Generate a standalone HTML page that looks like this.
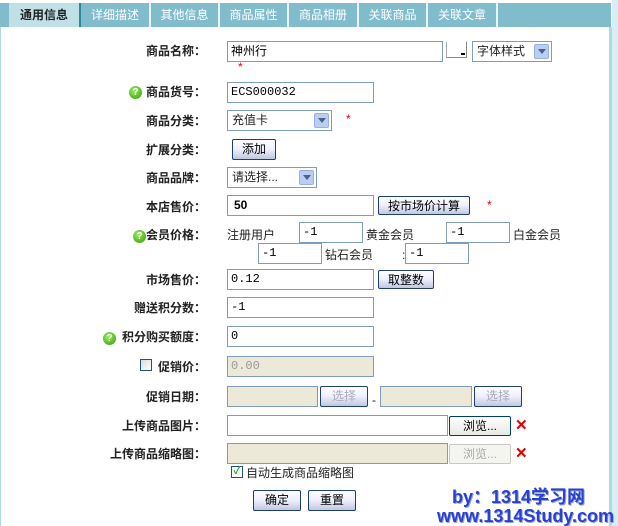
<!DOCTYPE html>
<html><head><meta charset="utf-8"><style>
*{margin:0;padding:0;box-sizing:border-box}
body{width:618px;height:526px;overflow:hidden;background:#fff;position:relative;font-family:"Liberation Sans","WenQuanYi Zen Hei","Noto Sans CJK SC",sans-serif;font-size:12px;color:#222}
.a{position:absolute}
.bar{left:0;top:3;height:24px}
.tab{position:absolute;top:3px;height:24px;line-height:24px;text-align:center;color:#fff;font-size:12px;border-right:2px solid #e8f4f8}
.lb{position:absolute;width:206px;left:0;text-align:right;font-weight:bold;color:#222;font-size:12px;height:14px;line-height:14px}
.in{position:absolute;border:1px solid #7f9db9;background:#fff;height:21px;line-height:19px;padding-left:3px;font-family:"Liberation Mono","WenQuanYi Zen Hei",monospace;font-size:12px;color:#000}
.dis{background:#ece9d8;color:#999}
.sel{position:absolute;border:1px solid #7f9db9;background:#fff;height:21px;line-height:19px;padding-left:4px;font-size:12px}
.sel i{position:absolute;right:2px;top:2px;width:15px;height:15px;background:#b9cdf5;border:1px solid #98b0e0;border-radius:2px}
.sel i:after{content:"";position:absolute;left:3px;top:4px;border:4px solid transparent;border-top:5px solid #4d6185}
.btn{position:absolute;border:1px solid #1f3f6f;border-radius:2px;background:linear-gradient(#fff,#eef 50%,#c0c8dc);height:20px;line-height:18px;text-align:center;font-size:12px;color:#000}
.bdis{color:#aaa;border-color:#c8c8c0;background:#f4f4f0}
.txt{position:absolute;font-size:12px;height:14px;line-height:14px}
.star{position:absolute;color:#e00;font-size:12px}
.q{position:absolute;width:13px;height:13px;border-radius:50%;background:radial-gradient(circle at 40% 35%,#9e6,#390);color:#fff;font-size:10px;font-weight:bold;text-align:center;line-height:13px}
.x{position:absolute;color:#d00;font-size:15px;font-weight:bold}
</style></head><body>
<div class="a" style="left:0;top:0;width:618px;height:3px;background:#fff"></div>
<div class="a" style="left:0;top:3px;width:611px;height:24px;background:#80bccc"></div>
<div class="a" style="left:609px;top:27px;width:3px;height:499px;background:#b0d8e0"></div>
<div class="a" style="left:612px;top:0;width:6px;height:526px;background:#d8eef4"></div>
<div class="a" style="left:0;top:27px;width:1px;height:499px;background:#b0d8e0"></div>
<div class="tab" style="left:9px;width:72px;background:#c0e0e8;color:#222;font-weight:bold;border-right:2px solid #2a8a9a">通用信息</div>
<div class="tab" style="left:81px;width:70px">详细描述</div>
<div class="tab" style="left:151px;width:69px">其他信息</div>
<div class="tab" style="left:220px;width:69px">商品属性</div>
<div class="tab" style="left:289px;width:70px">商品相册</div>
<div class="tab" style="left:359px;width:69px">关联商品</div>
<div class="tab" style="left:428px;width:70px">关联文章</div>

<div class="lb" style="top:44px">商品名称：</div>
<div class="in" style="left:191px;left:191px;display:none"></div>
<div class="in" style="left:227px;top:41px;width:216px;font-family:'WenQuanYi Zen Hei',sans-serif">神州行</div>
<div class="a" style="left:446px;top:41px;width:21px;height:17px;border:1px solid #888;border-top-color:#fff;border-left-color:#aaa;background:#fff"><div class="a" style="left:14px;top:11px;width:4px;height:2px;background:#000"></div></div>
<div class="sel" style="left:472px;top:41px;width:80px">字体样式<i></i></div>
<div class="star" style="left:238px;top:60px">*</div>

<div class="q" style="left:129px;top:86px">?</div>
<div class="lb" style="top:85px">商品货号：</div>
<div class="in" style="left:227px;top:82px;width:147px">ECS000032</div>

<div class="lb" style="top:114px">商品分类：</div>
<div class="sel" style="left:227px;top:110px;width:105px">充值卡<i></i></div>
<div class="star" style="left:346px;top:112px">*</div>

<div class="lb" style="top:143px">扩展分类：</div>
<div class="btn" style="left:232px;top:139px;width:44px;height:21px">添加</div>

<div class="lb" style="top:171px">商品品牌：</div>
<div class="sel" style="left:227px;top:167px;width:90px">请选择...<i></i></div>

<div class="lb" style="top:200px">本店售价：</div>
<div class="in" style="left:227px;top:195px;width:147px;font-weight:bold;font-family:'Liberation Sans',sans-serif;padding-left:6px">50</div>
<div class="btn" style="left:378px;top:196px;width:92px;height:19px">按市场价计算</div>
<div class="star" style="left:487px;top:198px">*</div>

<div class="q" style="left:133px;top:230px">?</div>
<div class="lb" style="top:228px;left:146px;width:60px">会员价格：</div>
<div class="txt" style="left:227px;top:228px">注册用户</div>
<div class="in" style="left:299px;top:222px;width:64px">-1</div>
<div class="txt" style="left:366px;top:228px">黄金会员</div>
<div class="in" style="left:446px;top:222px;width:64px">-1</div>
<div class="txt" style="left:513px;top:228px">白金会员</div>
<div class="in" style="left:258px;top:243px;width:64px">-1</div>
<div class="txt" style="left:325px;top:248px">钻石会员</div>
<div class="txt" style="left:402px;top:248px">:</div>
<div class="in" style="left:405px;top:243px;width:64px">-1</div>

<div class="lb" style="top:273px">市场售价：</div>
<div class="in" style="left:227px;top:269px;width:147px">0.12</div>
<div class="btn" style="left:378px;top:270px;width:56px;height:19px">取整数</div>

<div class="lb" style="top:301px">赠送积分数：</div>
<div class="in" style="left:227px;top:297px;width:147px">-1</div>

<div class="q" style="left:103px;top:332px">?</div>
<div class="lb" style="top:330px">积分购买额度：</div>
<div class="in" style="left:227px;top:326px;width:147px">0</div>

<div class="a" style="left:140px;top:359px;width:12px;height:12px;border:1px solid #1c5180;background:linear-gradient(135deg,#dcdcd8,#fff)"></div>
<div class="lb" style="top:360px">促销价：</div>
<div class="in dis" style="left:227px;top:356px;width:147px">0.00</div>

<div class="lb" style="top:390px">促销日期：</div>
<div class="in dis" style="left:227px;top:386px;width:91px"></div>
<div class="btn" style="left:320px;top:386px;width:48px;height:21px;color:#aab">选择</div>
<div class="txt" style="left:372px;top:393px">-</div>
<div class="in dis" style="left:380px;top:386px;width:92px"></div>
<div class="btn" style="left:474px;top:386px;width:48px;height:21px;color:#aab">选择</div>

<div class="lb" style="top:419px">上传商品图片：</div>
<div class="in" style="left:227px;top:415px;width:221px"></div>
<div class="btn" style="left:449px;top:416px;width:62px;background:linear-gradient(#fff,#e8e8e4);border-color:#003c74">浏览...</div>
<div class="x" style="left:515px;top:416px">✕</div>

<div class="lb" style="top:447px">上传商品缩略图：</div>
<div class="in dis" style="left:227px;top:443px;width:221px"></div>
<div class="btn bdis" style="left:449px;top:444px;width:62px">浏览...</div>
<div class="x" style="left:515px;top:444px">✕</div>

<div class="a" style="left:231px;top:466px;width:12px;height:12px;border:1px solid #1c5180;background:#fff;color:#2a2;font-size:10px;line-height:10px;text-align:center;font-weight:bold">✓</div>
<div class="txt" style="left:246px;top:466px">自动生成商品缩略图</div>

<div class="btn" style="left:253px;top:490px;width:48px;height:21px">确定</div>
<div class="btn" style="left:308px;top:490px;width:48px;height:21px">重置</div>

<div class="a" style="left:452px;top:487px;font-size:18px;font-weight:bold;color:#2a3fd8;text-shadow:1px 1px 0 #9ab;white-space:nowrap;line-height:20px">by：1314学习网</div>
<div class="a" style="left:437px;top:506px;font-size:18px;font-weight:bold;color:#2a3fd8;text-shadow:1px 1px 0 #9ab;white-space:nowrap;line-height:20px">www.1314Study.com</div>
</body></html>
